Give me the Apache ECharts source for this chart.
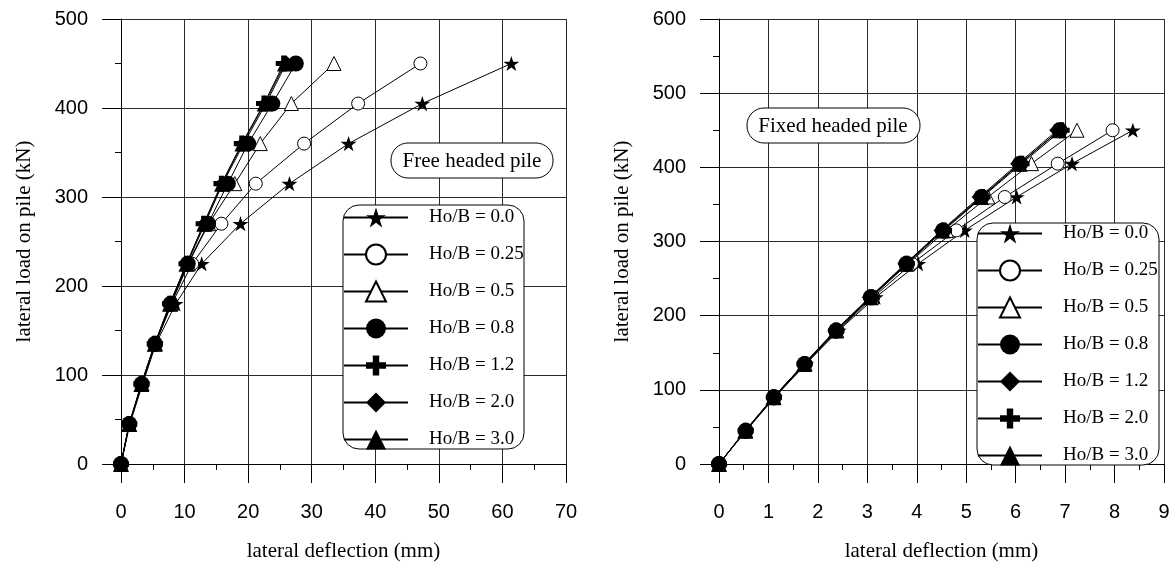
<!DOCTYPE html>
<html>
<head>
<meta charset="utf-8">
<script src="https://cdn.jsdelivr.net/npm/echarts@6/dist/echarts.min.js"></script>
<style>
html,body{margin:0;padding:0;background:#fff;}
#c{width:1176px;height:563px;}
</style>
</head>
<body>
<div id="c"></div>
<script>
// ---- data ----
const loads = [0, 45, 90, 135, 180, 225, 270, 315, 360, 405, 450];
const seriesLabels = ['Ho/B = 0.0', 'Ho/B = 0.25', 'Ho/B = 0.5', 'Ho/B = 0.8', 'Ho/B = 1.2', 'Ho/B = 2.0', 'Ho/B = 3.0'];

// Free headed pile, lateral deflection (mm)
const freeHo00 = [0, 1.4, 3.4, 5.5, 8.6, 12.7, 18.8, 26.5, 35.8, 47.4, 61.4];
const freeHo025 = [0, 1.3, 3.3, 5.4, 8.0, 11.2, 15.8, 21.2, 28.8, 37.3, 47.1];
const freeHo05 = [0, 1.3, 3.3, 5.4, 7.9, 10.6, 13.8, 17.9, 21.9, 26.8, 33.5];
const freeHo08 = [0, 1.3, 3.25, 5.35, 7.8, 10.5, 13.7, 16.8, 20.0, 23.8, 27.5];
const freeHo12 = [0, 1.3, 3.2, 5.3, 7.7, 10.3, 13.0, 15.8, 19.0, 22.5, 25.6];
const freeHo20 = [0, 1.3, 3.25, 5.35, 7.8, 10.4, 13.2, 16.0, 19.3, 22.8, 26.0];
const freeHo30 = [0, 1.3, 3.2, 5.3, 7.7, 10.3, 13.1, 15.9, 19.1, 22.6, 25.8];

// Fixed headed pile, lateral deflection (mm)
const fixedHo00 = [0, 0.55, 1.13, 1.76, 2.42, 3.17, 4.03, 4.97, 6.02, 7.14, 8.37];
const fixedHo025 = [0, 0.54, 1.12, 1.75, 2.40, 3.12, 3.90, 4.80, 5.78, 6.85, 7.96];
const fixedHo05 = [0, 0.54, 1.11, 1.74, 2.38, 3.09, 3.82, 4.60, 5.44, 6.32, 7.24];
const fixedHo08 = [0, 0.54, 1.11, 1.73, 2.37, 3.07, 3.79, 4.53, 5.31, 6.09, 6.89];
const fixedHo12 = [0, 0.53, 1.10, 1.72, 2.35, 3.05, 3.77, 4.50, 5.27, 6.05, 6.84];
const fixedHo20 = [0, 0.54, 1.11, 1.73, 2.37, 3.08, 3.80, 4.55, 5.33, 6.12, 6.93];
const fixedHo30 = [0, 0.53, 1.10, 1.72, 2.36, 3.06, 3.78, 4.52, 5.30, 6.08, 6.88];

const xTicksLeft = {min: 0, max: 70, interval: 10};
const xTicksRight = {min: 0, max: 9, interval: 1};
const yTicksLeft = {min: 0, max: 500, interval: 100};
const yTicksRight = {min: 0, max: 600, interval: 100};

// ---- styles ----
const STAR = 'path://M50 0 L61.23 34.55 L97.55 34.55 L68.17 55.9 L79.39 90.45 L50 69.1 L20.61 90.45 L31.83 55.9 L2.45 34.55 L38.77 34.55 Z';
const PLUS = 'path://M34 0 H66 V34 H100 V66 H66 V100 H34 V66 H0 V34 H34 Z';
const sym = {
  star: {symbol: STAR, size: 16, fill: '#000'},
  ocircle: {symbol: 'circle', size: 13, fill: '#fff'},
  otri: {symbol: 'triangle', size: 14, fill: '#fff'},
  circle: {symbol: 'circle', size: 16, fill: '#000'},
  plus: {symbol: PLUS, size: 16, fill: '#000'},
  diamond: {symbol: 'diamond', size: 16, fill: '#000'},
  tri: {symbol: 'triangle', size: 16, fill: '#000'}
};

const leftDefs = [
  [freeHo00, 'star'], [freeHo025, 'ocircle'], [freeHo05, 'otri'], [freeHo08, 'circle'],
  [freeHo12, 'plus'], [freeHo20, 'diamond'], [freeHo30, 'tri']
];
const rightDefs = [
  [fixedHo00, 'star'], [fixedHo025, 'ocircle'], [fixedHo05, 'otri'], [fixedHo08, 'circle'],
  [fixedHo12, 'diamond'], [fixedHo20, 'plus'], [fixedHo30, 'tri']
];

function makeSeries(defs, prefix, gi) {
  return defs.map(([xs, key], i) => {
    const s = sym[key];
    return {
      type: 'line',
      name: prefix + seriesLabels[i],
      xAxisIndex: gi, yAxisIndex: gi,
      data: loads.map((l, k) => [xs[k], l]),
      symbol: s.symbol,
      symbolSize: s.size,
      symbolKeepAspect: true,
      showAllSymbol: true,
      animation: false,
      lineStyle: {color: '#000', width: 1},
      itemStyle: {color: s.fill, borderColor: '#000', borderWidth: s.fill === '#fff' ? 1 : 0, opacity: 1},
      emphasis: {disabled: true},
      z: 2 + i * 0.01
    };
  });
}

const axisCommon = {
  type: 'value',
  axisLine: {show: true, onZero: false, lineStyle: {color: '#000', width: 1}},
  axisTick: {show: true, inside: false, length: 19, lineStyle: {color: '#000', width: 1}},
  minorTick: {show: true, splitNumber: 2, length: 6, lineStyle: {color: '#000', width: 1}},
  splitLine: {show: true, lineStyle: {color: '#2a2a2a', width: 1}},
  axisLabel: {color: '#000', fontFamily: 'Liberation Sans', fontSize: 20},
  nameLocation: 'middle',
  nameTextStyle: {color: '#000', fontFamily: 'Liberation Serif', fontSize: 21}
};

function xAxis(gi, t) {
  return Object.assign({}, axisCommon, {
    gridIndex: gi, min: t.min, max: t.max, interval: t.interval,
    name: 'lateral deflection (mm)', nameGap: 77,
    axisLabel: Object.assign({}, axisCommon.axisLabel, {margin: 38})
  });
}
function yAxis(gi, t) {
  return Object.assign({}, axisCommon, {
    gridIndex: gi, min: t.min, max: t.max, interval: t.interval,
    name: 'lateral load on pile (kN)', nameGap: 86, nameRotate: 90,
    axisLabel: Object.assign({}, axisCommon.axisLabel, {margin: 33})
  });
}

function legend(prefix, left, top) {
  return {
    orient: 'vertical', left: left, top: top, padding: 0,
    itemWidth: 64, itemHeight: 25, itemGap: 12,
    selectedMode: false,
    data: seriesLabels.map(n => prefix + n),
    formatter: n => n.slice(2),
    textStyle: {color: '#000', fontFamily: 'Liberation Serif', fontSize: 19, lineHeight: 25, padding: [0, 0, 0, 16]},
    z: 6
  };
}

const chart = echarts.init(document.getElementById('c'), null, {renderer: 'canvas'});
chart.setOption({
  animation: false,
  backgroundColor: '#fff',
  grid: [
    {left: 121, right: 610, top: 19, bottom: 99, containLabel: false, outerBoundsMode: 'none'},
    {left: 719, right: 12, top: 19, bottom: 99, containLabel: false, outerBoundsMode: 'none'}
  ],
  xAxis: [xAxis(0, xTicksLeft), xAxis(1, xTicksRight)],
  yAxis: [yAxis(0, yTicksLeft), yAxis(1, yTicksRight)],
  legend: [legend('L|', 343, 205), legend('R|', 977, 221)],
  graphic: [
    {type: 'rect', shape: {x: 343, y: 205, width: 181, height: 244, r: 16}, style: {fill: '#fff', stroke: '#000', lineWidth: 1}, z: 5},
    {type: 'rect', shape: {x: 977, y: 223, width: 182, height: 242, r: 16}, style: {fill: '#fff', stroke: '#000', lineWidth: 1}, z: 5},
    {type: 'rect', shape: {x: 391, y: 143, width: 162, height: 35, r: 17}, style: {fill: '#fff', stroke: '#000', lineWidth: 1}, z: 5},
    {type: 'text', x: 472, y: 161, style: {text: 'Free headed pile', fontFamily: 'Liberation Serif', fontSize: 21, fill: '#000', align: 'center', verticalAlign: 'middle'}, z: 6},
    {type: 'rect', shape: {x: 747, y: 108, width: 173, height: 35, r: 17}, style: {fill: '#fff', stroke: '#000', lineWidth: 1}, z: 5},
    {type: 'text', x: 833, y: 126, style: {text: 'Fixed headed pile', fontFamily: 'Liberation Serif', fontSize: 21, fill: '#000', align: 'center', verticalAlign: 'middle'}, z: 6}
  ],
  series: makeSeries(leftDefs, 'L|', 0).concat(makeSeries(rightDefs, 'R|', 1))
});
</script>
</body>
</html>
